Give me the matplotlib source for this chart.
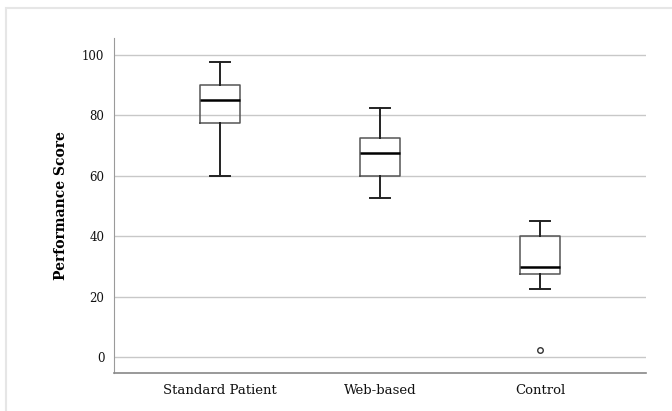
import matplotlib
matplotlib.use("Agg")
import matplotlib.pyplot as plt
from matplotlib.patches import Rectangle

# group names and box statistics
groups = ["Standard Patient", "Web-based", "Control"]
whisker_low = [60, 52.5, 22.5]
q1 = [77.5, 60, 27.5]
median = [85, 67.5, 30]
q3 = [90, 72.5, 40]
whisker_high = [97.5, 82.5, 45]
outliers = [[], [], [2.5]]
yticks = [0, 20, 40, 60, 80, 100]

plt.rcParams['font.family'] = ['DejaVu Serif']

fig = plt.figure(figsize=(6.72, 4.11), dpi=100)
ax = fig.add_axes([114/672, 1 - 372.5/411, (646 - 114)/672, (372.5 - 38)/411])

stats = []
for i, g in enumerate(groups):
    stats.append(dict(label=g, whislo=whisker_low[i], q1=q1[i], med=median[i],
                      q3=q3[i], whishi=whisker_high[i], fliers=outliers[i]))

ax.bxp(stats, positions=range(len(groups)), widths=0.25, showfliers=True,
       patch_artist=False,
       boxprops=dict(color="#555555", linewidth=1.1),
       medianprops=dict(color="black", linewidth=1.8),
       whiskerprops=dict(color="#222222", linewidth=1.4),
       capprops=dict(color="#222222", linewidth=1.4),
       capwidths=0.125,
       flierprops=dict(marker="o", markersize=4, markerfacecolor="white",
                       markeredgecolor="#333333", markeredgewidth=1.0))

ax.set_xlim(-0.66, 2.66)
ax.set_ylim(-5, 105.5)
ax.set_yticks(yticks)
ax.yaxis.grid(True, color="#c8c8c8", linewidth=1.0)
ax.set_axisbelow(True)
ax.tick_params(axis="y", length=0, labelsize=8.5, colors="#111111", pad=7)
ax.tick_params(axis="x", length=0, labelsize=9.5, colors="#111111", pad=8)
ax.set_ylabel("Performance Score", fontsize=10, fontweight="bold", labelpad=10)

for s in ["top", "right"]:
    ax.spines[s].set_visible(False)
ax.spines["left"].set_color("#9a9a9a")
ax.spines["bottom"].set_color("#888888")
ax.spines["bottom"].set_linewidth(1.2)

# light frame around the chart area
fig.patches.append(Rectangle((6/672, -0.1), 1.2, 1 - 8/411 + 0.1,
                             transform=fig.transFigure, fill=False,
                             edgecolor="#e6e6e6", linewidth=1.5))

fig.savefig("out.png", dpi=100)
